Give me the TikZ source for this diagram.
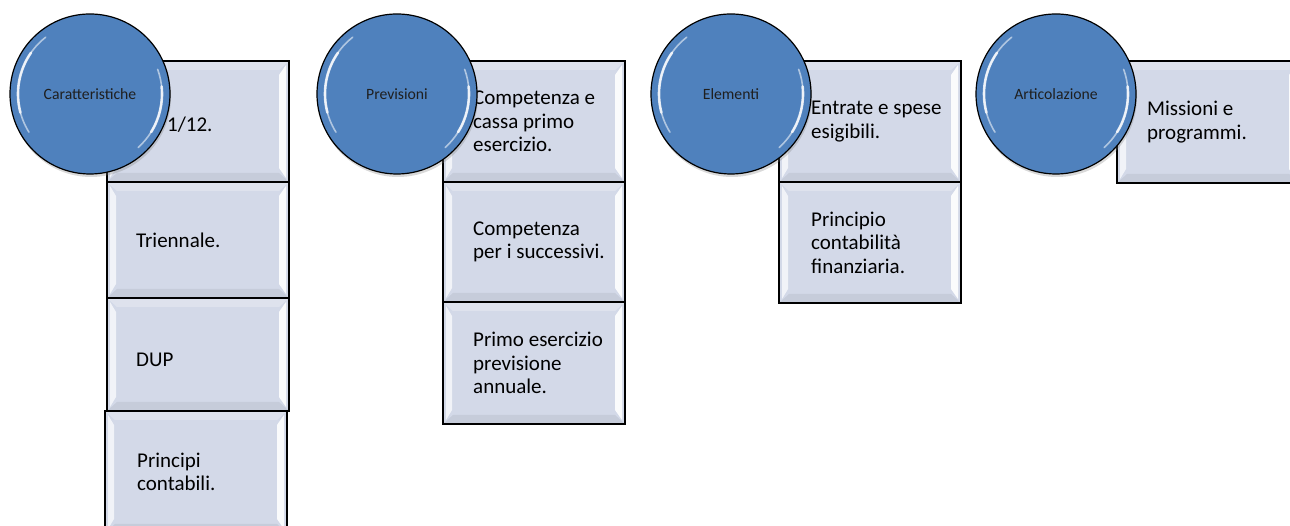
\documentclass[tikz,border=0pt]{standalone}
\usepackage{fontspec}
\setmainfont{Carlito}
\usepackage{xcolor}
\definecolor{colorBall}{HTML}{4F81BD}
\definecolor{colorBox}{HTML}{D3D9E8}
\colorlet{colorBallText}{black!88}
\usetikzlibrary{positioning, shadows}
\tikzset{
  ball/.style={circle, draw=black, line width=1.2pt, fill=colorBall, minimum size=160pt, inner sep=0pt,
    text=colorBallText, font=\fontsize{15.7}{18}\selectfont,
    drop shadow={opacity=.3, shadow xshift=1pt, shadow yshift=-3pt}},
  shine/.style={white, line width=1.6pt, opacity=.55, line cap=round},
  box/.style={rectangle, draw=black, line width=1.2pt, fill=colorBox, minimum width=182pt, minimum height=121pt,
    inner sep=0pt, outer sep=0pt,
    path picture={
      \fill[white, opacity=.25] (path picture bounding box.north west) -- (path picture bounding box.north east) -- ++(-10pt,-9pt) -- ([shift={(10pt,-9pt)}]path picture bounding box.north west) -- cycle;
      \fill[black, opacity=.06] (path picture bounding box.south west) -- (path picture bounding box.south east) -- ++(-10pt,9pt) -- ([shift={(10pt,9pt)}]path picture bounding box.south west) -- cycle;
      \fill[white, opacity=.7] ([shift={(3pt,-4pt)}]path picture bounding box.north west) -- ++(6pt,-10pt) -- ([shift={(9pt,14pt)}]path picture bounding box.south west) -- ++(-6pt,-10pt) -- cycle;
      \fill[white, opacity=.9] ([shift={(-3pt,-4pt)}]path picture bounding box.north east) -- ++(-7pt,-10pt) -- ([shift={(-10pt,14pt)}]path picture bounding box.south east) -- ++(7pt,-10pt) -- cycle;
    }}
}

\begin{document}
\begin{tikzpicture}[x=1pt, y=1pt, boxtext/.style={align=left, inner sep=0pt, font=\fontsize{21}{23.5}\selectfont}]
\useasboundingbox (0,0) rectangle (1290,526);
% Caratteristiche
\node[box, anchor=north west] (b11) at (107,465) {};
\node[box, below=0pt of b11, minimum height=116pt] (b12) {};
\node[box, below=0pt of b12, minimum height=113pt] (b13) {};
\node[box, below=0pt of b13, xshift=-2pt, minimum height=122pt] (b14) {};
\node[boxtext, right=60pt of b11.west, yshift=-3pt] (t11) {1/12.};
\node[boxtext, right=29pt of b12.west] (t12) {Triennale.};
\node[boxtext, right=29pt of b13.west, yshift=-5pt] (t13) {DUP};
\node[boxtext, right=32pt of b14.west] (t14) {Principi\\contabili.};
% Previsioni
\node[box, anchor=north west] (b21) at (443,465) {};
\node[box, below=0pt of b21, minimum height=120pt] (b22) {};
\node[box, below=0pt of b22, minimum height=122pt] (b23) {};
\node[boxtext, right=30pt of b21.west] (t21) {Competenza e\\cassa primo\\esercizio.};
\node[boxtext, right=30pt of b22.west] (t22) {Competenza\\per i successivi.};
\node[boxtext, right=30pt of b23.west] (t23) {Primo esercizio\\previsione\\annuale.};
% Elementi
\node[box, anchor=north west] (b31) at (779,465) {};
\node[box, below=0pt of b31] (b32) {};
\node[boxtext, right=32pt of b31.west] (t31) {Entrate e spese\\esigibili.};
\node[boxtext, right=32pt of b32.west] (t32) {Principio\\contabilità\\finanziaria.};
% Articolazione
\node[box, anchor=north west, minimum height=122pt] (b41) at (1117,465) {};
\node[boxtext, right=30pt of b41.west] (t41) {Missioni e\\programmi.};
% circles on top
\node[ball] (c1) at (90,432) {Caratteristiche};
\node[ball] (c2) at (397,432) {Previsioni};
\node[ball] (c3) at (731,432) {Elementi};
\node[ball] (c4) at (1056,432) {Articolazione};
\foreach \k in {c1,c2,c3,c4}{
  \draw[shine] ([shift={(128:72pt)}]\k.center) arc[start angle=128, end angle=212, radius=72pt];
  \draw[shine] ([shift={(-48:72pt)}]\k.center) arc[start angle=-48, end angle=20, radius=72pt];
  \draw[shine, line width=2.6pt, opacity=.8] ([shift={(145:72pt)}]\k.center) arc[start angle=145, end angle=195, radius=72pt];
  \draw[shine, line width=2.6pt, opacity=.8] ([shift={(-32:72pt)}]\k.center) arc[start angle=-32, end angle=6, radius=72pt];
}
\end{tikzpicture}
\end{document}
